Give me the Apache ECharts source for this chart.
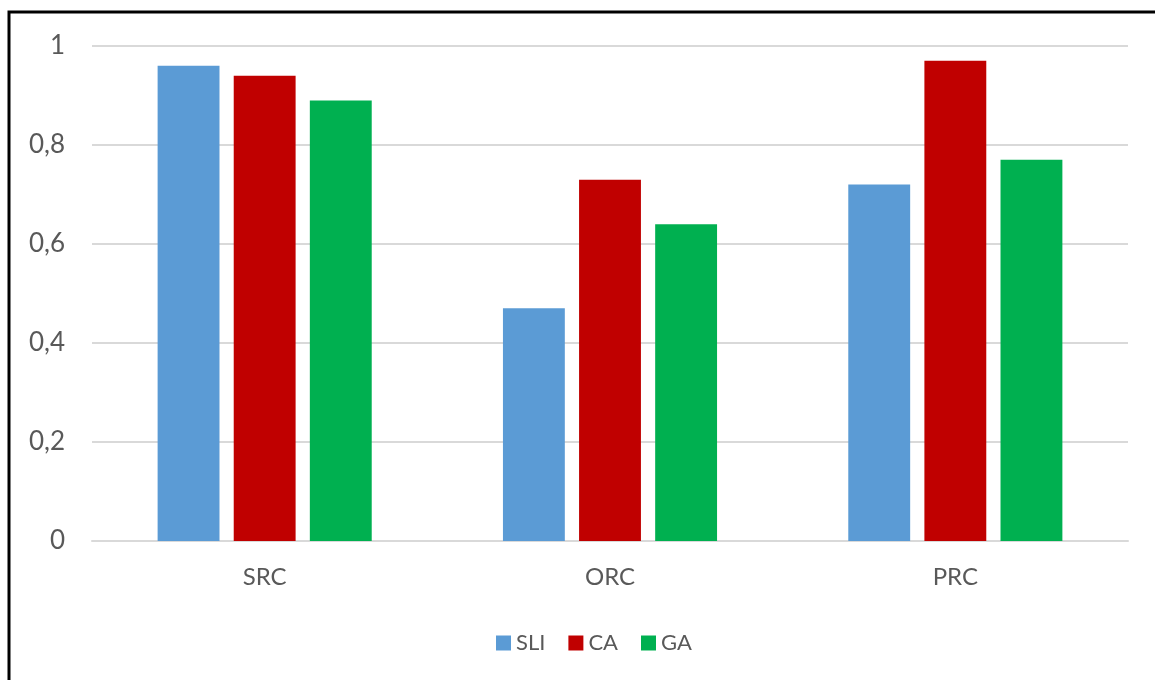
<!DOCTYPE html>
<html>
<head>
<meta charset="utf-8">
<script src="https://cdn.jsdelivr.net/npm/echarts@6/dist/echarts.min.js"></script>
<style>
html, body { margin: 0; padding: 0; background: #fff; }
#main { width: 1155px; height: 680px; }
</style>
</head>
<body>
<div id="main"></div>
<script>
var categories = ['SRC', 'ORC', 'PRC'];
var sliValues = [0.96, 0.47, 0.72];
var caValues = [0.94, 0.73, 0.97];
var gaValues = [0.89, 0.64, 0.77];

var myChart = echarts.init(document.getElementById('main'));

var option = {
    backgroundColor: '#fff',
    textStyle: {
        fontFamily: 'Lato'
    },
    graphic: [{
        type: 'rect',
        shape: { x: 9, y: 12, width: 1300, height: 800 },
        style: { fill: 'none', stroke: '#000', lineWidth: 3 }
    }],
    legend: {
        top: 627,
        left: 491,
        itemWidth: 15,
        itemHeight: 15,
        itemGap: 23,
        icon: 'rect',
        textStyle: {
            fontSize: 22,
            color: '#595959',
            fontFamily: 'Lato'
        },
        data: ['SLI', 'CA', 'GA']
    },
    grid: {
        left: 92,
        right: 27,
        top: 46,
        bottom: 139
    },
    xAxis: {
        type: 'category',
        data: categories,
        axisLine: {
            lineStyle: { color: '#d9d9d9', width: 2 }
        },
        axisTick: { show: false },
        axisLabel: {
            color: '#595959',
            fontSize: 24,
            fontFamily: 'Lato',
            margin: 24
        }
    },
    yAxis: {
        type: 'value',
        min: 0,
        max: 1,
        interval: 0.2,
        axisLine: { show: false },
        axisTick: { show: false },
        splitLine: {
            lineStyle: { color: '#d9d9d9', width: 2 }
        },
        axisLabel: {
            color: '#595959',
            fontSize: 26,
            fontFamily: 'Lato',
            margin: 27,
            formatter: function (v) {
                return String(Math.round(v * 10) / 10).replace('.', ',');
            }
        }
    },
    series: [{
        name: 'SLI',
        type: 'bar',
        barGap: '23%',
        barCategoryGap: '38%',
        itemStyle: { color: '#5b9bd5' },
        data: sliValues
    }, {
        name: 'CA',
        type: 'bar',
        itemStyle: { color: '#c00000' },
        data: caValues
    }, {
        name: 'GA',
        type: 'bar',
        itemStyle: { color: '#00b050' },
        data: gaValues
    }]
};
myChart.setOption(option);
</script>
</body>
</html>
